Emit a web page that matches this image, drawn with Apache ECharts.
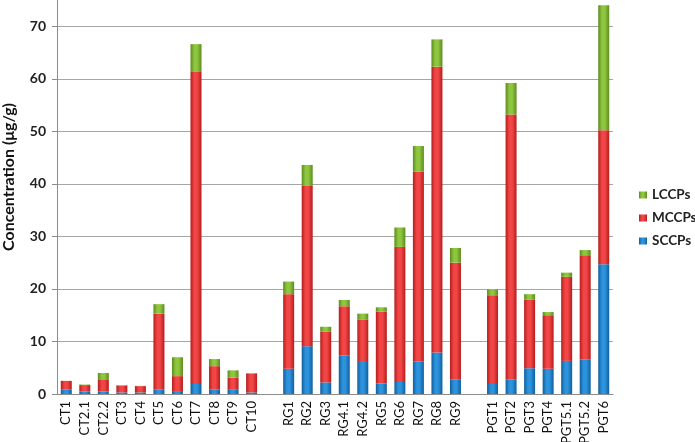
<!DOCTYPE html>
<html><head><meta charset="utf-8">
<script src="https://cdn.jsdelivr.net/npm/echarts@6/dist/echarts.min.js"></script>
<style>html,body{margin:0;padding:0;background:#fff}#c{width:695px;height:442px}</style>
</head><body><div id="c"></div>
<script>
const categories = ['CT1','CT2.1','CT2.2','CT3','CT4','CT5','CT6','CT7','CT8','CT9','CT10','',
  'RG1','RG2','RG3','RG4.1','RG4.2','RG5','RG6','RG7','RG8','RG9','',
  'PGT1','PGT2','PGT3','PGT4','PGT5.1','PGT5.2','PGT6'];
const sccps = [0.9,0.5,0.5,0.3,0.3,0.9,0.4,1.9,0.9,0.8,0.3,null,
  4.8,9.1,2.2,7.3,6.1,2.0,2.3,6.2,7.9,2.7,null,
  1.9,2.7,4.9,4.8,6.3,6.5,24.7];
const mccps = [1.6,1.2,2.3,1.3,1.2,14.4,3.0,59.4,4.4,2.3,3.6,null,
  14.2,30.5,9.7,9.4,8.1,13.7,25.7,36.1,54.4,22.3,null,
  16.9,50.5,13.1,10.2,16.0,19.9,25.5];
const lccps = [0,0.1,1.2,0.1,0.05,1.8,3.6,5.3,1.35,1.4,0.1,null,
  2.4,4.0,0.9,1.2,1.1,0.8,3.7,4.9,5.2,2.8,null,
  1.1,6.0,1.0,0.6,0.8,1.0,23.8];
const yTicks = [0,10,20,30,40,50,60,70];

function grad(edge, mid){
  return new echarts.graphic.LinearGradient(0,0,1,0,[
    {offset:0,color:edge},{offset:0.35,color:mid},{offset:0.6,color:mid},{offset:1,color:edge}]);
}
const chart = echarts.init(document.getElementById('c'));
const font = 'Lato, "Open Sans", sans-serif';
function mk(name, data, edge, mid){
  return {name, type:'bar', stack:'t', data, barWidth:11,
    itemStyle:{color:grad(edge,mid)}, emphasis:{disabled:true}};
}
chart.setOption({
  animation:false,
  grid:{left:57,right:82,top:0,bottom:48,containLabel:false,outerBoundsMode:'none'},
  legend:{orient:'vertical',left:634,top:183,itemWidth:8,itemHeight:7,itemGap:9,width:70,
    data:['LCCPs','MCCPs','SCCPs'],icon:'rect',
    textStyle:{fontFamily:font,fontWeight:'bold',fontSize:13.5,color:'#222',overflow:'none'}},
  graphic:[{type:'text',left:1,top:103,rotation:Math.PI/2,
    style:{text:'Concentration (μg/g)',font:'bold 16px '+font,fill:'#111'}}],
  xAxis:{type:'category',data:categories,
    axisLine:{lineStyle:{color:'#8c8c8c'}},
    axisTick:{show:false},
    axisLabel:{rotate:90,margin:7,interval:0,fontFamily:font,fontSize:13,color:'#111'}},
  yAxis:{type:'value',min:0,max:75,interval:10,
    axisLine:{show:true,lineStyle:{color:'#8c8c8c'}},
    axisTick:{show:true,length:5,lineStyle:{color:'#8c8c8c'}},
    splitLine:{lineStyle:{color:'#a6a6a6'},showMaxLine:false},
    axisLabel:{margin:11,fontFamily:font,fontWeight:'bold',fontSize:14,color:'#222',
      formatter:v=>yTicks.includes(v)?String(v):'',showMaxLabel:false}},
  series:[
    mk('SCCPs',sccps,'#0f5f9e','#2c93dc'),
    mk('MCCPs',mccps,'#b51d1d','#f24646'),
    mk('LCCPs',lccps,'#5b8c1c','#8fc640')
  ]
});
</script></body></html>
